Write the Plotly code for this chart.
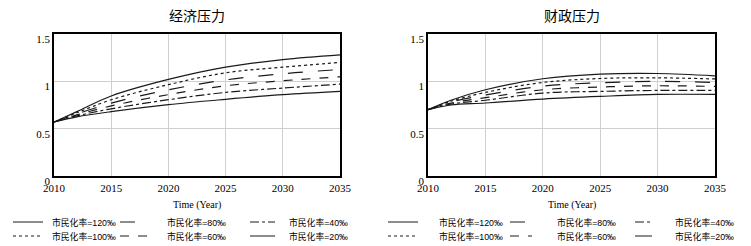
import plotly.graph_objects as go

years = [2010, 2012, 2015, 2020, 2025, 2030, 2035]
scenario_labels = ["市民化率=120‰", "市民化率=100‰", "市民化率=80‰",
                   "市民化率=60‰", "市民化率=40‰", "市民化率=20‰"]
dash_styles = ["solid", "dot", "longdash", "dash", "dashdot", "solid"]

econ_120 = [0.57, 0.68, 0.845, 1.02, 1.15, 1.23, 1.28]
econ_100 = [0.57, 0.668, 0.805, 0.965, 1.09, 1.15, 1.20]
econ_80 = [0.57, 0.655, 0.77, 0.91, 1.015, 1.08, 1.125]
econ_60 = [0.57, 0.645, 0.74, 0.86, 0.953, 1.006, 1.048]
econ_40 = [0.57, 0.635, 0.71, 0.806, 0.883, 0.929, 0.971]
econ_20 = [0.57, 0.625, 0.68, 0.754, 0.81, 0.859, 0.894]

fisc_120 = [0.70, 0.80, 0.911, 1.027, 1.076, 1.083, 1.058]
fisc_100 = [0.70, 0.79, 0.883, 0.988, 1.03, 1.037, 1.025]
fisc_80 = [0.70, 0.78, 0.855, 0.95, 0.985, 0.999, 0.988]
fisc_60 = [0.70, 0.77, 0.827, 0.911, 0.94, 0.953, 0.946]
fisc_40 = [0.70, 0.76, 0.80, 0.876, 0.894, 0.904, 0.904]
fisc_20 = [0.70, 0.75, 0.771, 0.813, 0.841, 0.862, 0.862]

econ_series = [econ_120, econ_100, econ_80, econ_60, econ_40, econ_20]
fisc_series = [fisc_120, fisc_100, fisc_80, fisc_60, fisc_40, fisc_20]

titles = ["经济压力", "财政压力"]
x_ticks = [2010, 2015, 2020, 2025, 2030, 2035]
y_ticks = [0, 0.5, 1, 1.5]
y_ticktext = ["0", "0.5", "1", "1.5"]
x_title = "Time (Year)"

W, H = 751, 246
LINE_COLOR = "#1a1a1a"
SERIF = "Liberation Serif, Times New Roman, serif"
CJK = "Noto Sans CJK SC, Noto Sans, sans-serif"
LEG = "Liberation Sans, Noto Sans CJK SC, sans-serif"

fig = go.Figure()

for panel, series in enumerate([econ_series, fisc_series]):
    xa = "x" if panel == 0 else "x2"
    ya = "y" if panel == 0 else "y2"
    for lbl, vals, d in zip(scenario_labels, series, dash_styles):
        fig.add_trace(go.Scatter(
            x=years, y=vals, mode="lines", name=lbl,
            line=dict(color=LINE_COLOR, width=1.2, dash=d, shape="spline", smoothing=1.0),
            xaxis=xa, yaxis=ya, showlegend=False, hoverinfo="skip"))

# plot-area pixel geometry
panels_px = [(54, 340), (428, 715)]
top_px, bot_px = 34, 176

def px_x(p):
    return p / W

def px_y(p):
    return 1 - p / H

axis_common = dict(showline=True, linecolor="black", linewidth=1.5, mirror=True,
                   showgrid=True, gridcolor="#cfcfcf", gridwidth=1, zeroline=False,
                   ticks="", automargin=False,
                   tickfont=dict(family=SERIF, size=11, color="black"))

layout = dict(width=W, height=H, margin=dict(l=0, r=0, t=0, b=0, autoexpand=False),
              paper_bgcolor="white", plot_bgcolor="white", showlegend=False)

for i, (l, r) in enumerate(panels_px):
    sx = "" if i == 0 else "2"
    layout["xaxis" + sx] = dict(axis_common, domain=[px_x(l), px_x(r)], range=[2010, 2035],
                                tickvals=x_ticks, anchor="y" + sx, ticklabelstandoff=1)
    layout["yaxis" + sx] = dict(axis_common, domain=[px_y(bot_px), px_y(top_px)], range=[0, 1.5],
                                tickvals=y_ticks, ticktext=y_ticktext, anchor="x" + sx,
                                ticklabelstandoff=0, ticklabelshift=5)
fig.update_layout(**layout)

annotations = []
shapes = []
for i, (l, r) in enumerate(panels_px):
    cx = (l + r) / 2
    annotations.append(dict(text=titles[i], x=px_x(cx), y=px_y(15), xref="paper", yref="paper",
                            showarrow=False, xanchor="center", yanchor="middle",
                            font=dict(family=CJK, size=14, color="black")))
    annotations.append(dict(text=x_title, x=px_x(cx), y=px_y(205), xref="paper", yref="paper",
                            showarrow=False, xanchor="center", yanchor="middle",
                            font=dict(family=SERIF, size=10, color="black")))

# manual legends: column-major order (120,100 | 80,60 | 40,20)
legend_cols = [
    [(13, 43, 50), (120, 147, 165), (250, 275, 287)],
    [(388, 418, 437), (510, 532, 555), (635, 652, 673)],
]
row_y = [222, 236]
for cols in legend_cols:
    for k in range(6):
        c, rw = divmod(k, 2)
        x0, x1, tx = cols[c]
        yy = row_y[rw]
        shapes.append(dict(type="line", xref="paper", yref="paper",
                           x0=px_x(x0), x1=px_x(x1), y0=px_y(yy), y1=px_y(yy),
                           line=dict(color=LINE_COLOR, width=1, dash=dash_styles[k])))
        annotations.append(dict(text=scenario_labels[k], x=px_x(tx), y=px_y(yy),
                                xref="paper", yref="paper", showarrow=False,
                                xanchor="left", yanchor="middle",
                                font=dict(family=LEG, size=8.8, color="black")))

fig.update_layout(annotations=annotations, shapes=shapes)
fig.write_html("out.html", config={"displayModeBar": False},
               post_script="document.body.style.margin='0';document.body.style.overflow='hidden';")
